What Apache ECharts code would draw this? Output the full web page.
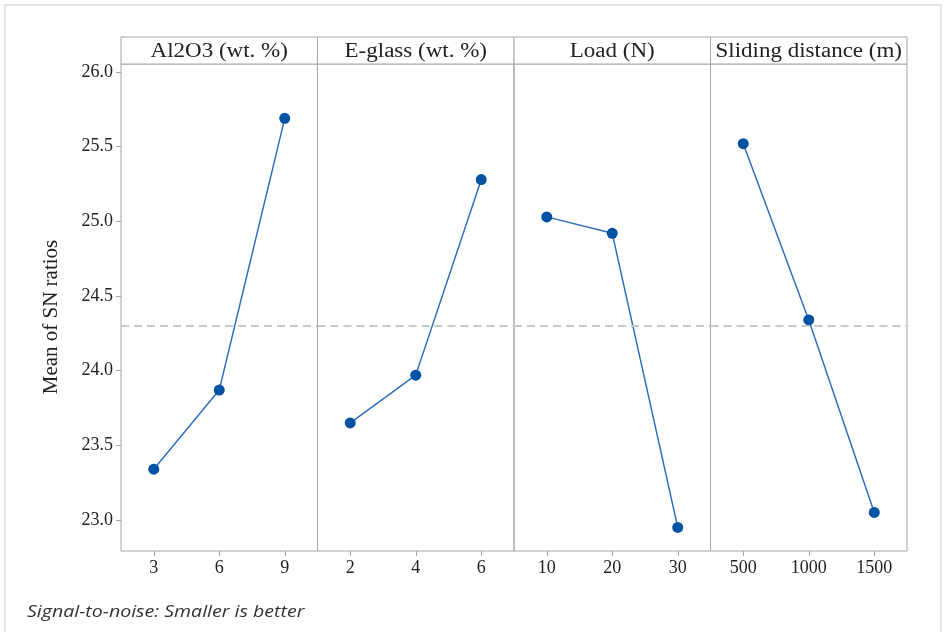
<!DOCTYPE html>
<html>
<head>
<meta charset="utf-8">
<script src="https://cdn.jsdelivr.net/npm/echarts@6/dist/echarts.min.js"></script>
<style>
html,body{margin:0;padding:0;background:#fff;}
#chart{width:950px;height:632px;}
</style>
</head>
<body>
<div id="chart"></div>
<script>
// ---- data ----
const factorNames = ['Al2O3 (wt. %)', 'E-glass (wt. %)', 'Load (N)', 'Sliding distance (m)'];
const levelsAl2O3 = ['3', '6', '9'];
const levelsEglass = ['2', '4', '6'];
const levelsLoad = ['10', '20', '30'];
const levelsDistance = ['500', '1000', '1500'];
const snAl2O3 = [23.34, 23.87, 25.69];
const snEglass = [23.65, 23.97, 25.28];
const snLoad = [25.03, 24.92, 22.95];
const snDistance = [25.52, 24.34, 23.05];
const yTickValues = [23.0, 23.5, 24.0, 24.5, 25.0, 25.5, 26.0];
const yAxisTitle = 'Mean of SN ratios';
const footnote = 'Signal-to-noise: Smaller is better';

const levels = [levelsAl2O3, levelsEglass, levelsLoad, levelsDistance];
const values = [snAl2O3, snEglass, snLoad, snDistance];
const allVals = values.flat();
const meanSN = allVals.reduce((a, b) => a + b, 0) / allVals.length;

// ---- layout ----
const plotLeft = 121, plotRight = 907, plotTop = 64, plotBottom = 551, headerTop = 37;
const panelW = (plotRight - plotLeft) / 4;
const yMin = 22.792, yMax = 26.054;
const gridColor = '#a6a6a6';
const serif = '"Liberation Serif", "Times New Roman", serif';

const grids = [], xAxes = [], yAxes = [], series = [], graphics = [];

graphics.push({
  type: 'rect', shape: { x: 5, y: 5, width: 936, height: 660 },
  style: { fill: 'none', stroke: '#e4e4e4', lineWidth: 2 }, silent: true
});

for (let i = 0; i < 4; i++) {
  const left = plotLeft + i * panelW;
  grids.push({
    left: left, top: plotTop, width: panelW, height: plotBottom - plotTop,
    show: true, borderColor: gridColor, borderWidth: 1, backgroundColor: 'transparent'
  });
  xAxes.push({
    type: 'category', gridIndex: i, data: levels[i], boundaryGap: true,
    axisLine: { show: false },
    axisTick: { show: true, alignWithLabel: true, length: 5, lineStyle: { color: gridColor } },
    axisLabel: { fontFamily: serif, fontSize: 18, color: '#222', margin: 8 },
    splitLine: { show: false }
  });
  yAxes.push({
    type: 'value', gridIndex: i, min: yMin, max: yMax,
    show: i === 0,
    axisLine: { show: false },
    axisTick: { show: true, length: 5, customValues: yTickValues, lineStyle: { color: gridColor } },
    axisLabel: {
      fontFamily: serif, fontSize: 18, color: '#222', margin: 8,
      customValues: yTickValues,
      formatter: v => v.toFixed(1)
    },
    splitLine: { show: false }
  });
  series.push({
    type: 'line', xAxisIndex: i, yAxisIndex: i, data: values[i],
    symbol: 'circle', symbolSize: 11,
    lineStyle: { color: '#2e6fba', width: 1.5 },
    itemStyle: { color: '#0052a3' },
    animation: false,
    markLine: {
      silent: true, symbol: 'none', label: { show: false },
      lineStyle: { type: [8, 5], color: '#c8c8c8', width: 2 },
      data: [{ yAxis: meanSN }],
      animation: false
    },
    z: 3
  });
  graphics.push({
    type: 'rect', shape: { x: left, y: headerTop, width: panelW, height: plotTop - headerTop },
    style: { fill: '#fff', stroke: gridColor, lineWidth: 1 }, silent: true
  });
  graphics.push({
    type: 'text', x: left + panelW / 2, y: (headerTop + plotTop) / 2 + 1, scaleX: 1.15,
    style: { text: factorNames[i], fontFamily: serif, fontSize: 20, fill: '#222',
             textAlign: 'center', textVerticalAlign: 'middle' }, silent: true
  });
}

graphics.push({
  type: 'text', x: 51, y: 317, rotation: Math.PI / 2,
  style: { text: yAxisTitle, fontFamily: serif, fontSize: 21, fill: '#222',
           textAlign: 'center', textVerticalAlign: 'middle' }, silent: true
});

graphics.push({
  type: 'text', x: 27, y: 612, scaleX: 1.15,
  style: { text: footnote, fontFamily: '"Open Sans", "Noto Sans", sans-serif', fontStyle: 'italic',
           fontSize: 17, fill: '#333', textAlign: 'left', textVerticalAlign: 'middle' }, silent: true
});

const chart = echarts.init(document.getElementById('chart'), null, { renderer: 'canvas' });
chart.setOption({
  backgroundColor: '#fff',
  animation: false,
  grid: grids, xAxis: xAxes, yAxis: yAxes, series: series,
  graphic: graphics
});
</script>
</body>
</html>
